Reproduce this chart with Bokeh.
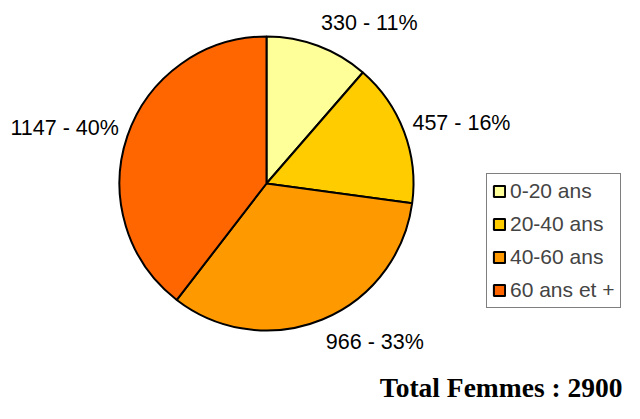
import math
from bokeh.plotting import figure
from bokeh.models import Range1d, Legend, LegendItem, ColumnDataSource
from bokeh.core.properties import value
from bokeh.embed import file_html
from bokeh.resources import INLINE

categories = ["0-20 ans", "20-40 ans", "40-60 ans", "60 ans et +"]
counts = [330, 457, 966, 1147]
percent_labels = ["11%", "16%", "33%", "40%"]
colors = ["#FFFF99", "#FFCC00", "#FF9900", "#FF6600"]
total_title = "Total Femmes"

W, H = 624, 403
cx, cy, r = 266, 220, 147

total = sum(counts)
starts, ends, lx, ly, aligns, texts = [], [], [], [], [], []
cum = 0
for c, pl in zip(counts, percent_labels):
    a0 = math.pi / 2 - 2 * math.pi * cum / total
    cum += c
    a1 = math.pi / 2 - 2 * math.pi * cum / total
    starts.append(a0)
    ends.append(a1)
    mid = (a0 + a1) / 2
    lx.append(cx + (r + 9) * math.cos(mid))
    ly.append(cy + (r + 24) * math.sin(mid))
    aligns.append("left" if math.cos(mid) > 0 else "right")
    texts.append(f"{c} - {pl}")

p = figure(width=W, height=H, output_backend="svg", toolbar_location=None,
           x_range=Range1d(0, W), y_range=Range1d(0, H),
           min_border=0, outline_line_color=None)
p.axis.visible = False
p.grid.visible = False

items = []
for i in range(len(counts)):
    w = p.wedge(x=cx, y=cy, radius=r, start_angle=starts[i], end_angle=ends[i],
                direction="clock", fill_color=colors[i], line_color="black",
                line_width=2)
    items.append(LegendItem(label=categories[i], renderers=[w]))

src = ColumnDataSource(dict(x=lx, y=ly, t=texts, a=aligns))
p.text(x="x", y="y", text="t", text_align="a", text_baseline="middle",
       text_font=value("Liberation Sans"), text_font_size="21.5px",
       text_color="black", source=src)

p.text(x=[W - 2], y=[1], text=[f"{total_title} : {total}"], text_align="right",
       text_baseline="bottom", text_font=value("Liberation Serif"),
       text_font_style="bold", text_font_size="27.5px", text_color="black")

legend = Legend(items=items, location=(486, 95), orientation="vertical",
                label_text_font="Liberation Sans",
                label_text_font_size="21px", label_height=20,
                glyph_width=14, glyph_height=14, spacing=9, padding=5,
                margin=0, label_standoff=4, border_line_color="black",
                border_line_width=1, background_fill_alpha=1)
p.add_layout(legend, "center")

open("out.html", "w").write(file_html(p, INLINE))
